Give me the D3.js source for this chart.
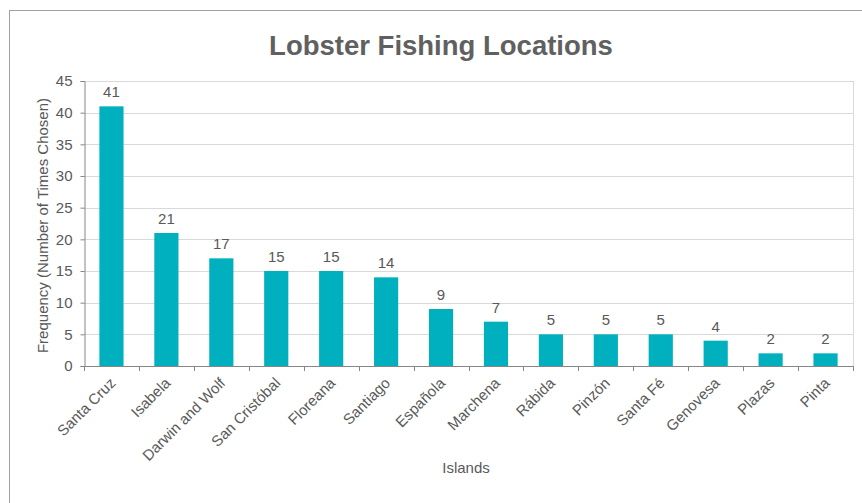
<!DOCTYPE html>
<html>
<head>
<meta charset="utf-8">
<script src="https://cdn.jsdelivr.net/npm/d3@7/dist/d3.min.js"></script>
<style>
  html, body { margin: 0; padding: 0; background: #fff; }
  svg { display: block; font-family: "Liberation Sans", Arial, sans-serif; }
  svg text { font-family: "Liberation Sans", Arial, sans-serif; }
</style>
</head>
<body>
<svg id="chart" width="862" height="503"></svg>
<script>
const islands = ["Santa Cruz", "Isabela", "Darwin and Wolf", "San Cristóbal", "Floreana", "Santiago",
  "Española", "Marchena", "Rábida", "Pinzón", "Santa Fé", "Genovesa", "Plazas", "Pinta"];
const timesChosen = [41, 21, 17, 15, 15, 14, 9, 7, 5, 5, 5, 4, 2, 2];
const yTicks = [0, 5, 10, 15, 20, 25, 30, 35, 40, 45];

const svg = d3.select("#chart");
const textColor = "#595959";
const barColor = "#00B0BE";
const fontSize = 15;

// outer chart frame
svg.append("rect")
  .attr("x", 9.5).attr("y", 10.5)
  .attr("width", 870).attr("height", 520)
  .attr("fill", "none").attr("stroke", "#a0a0a0").attr("stroke-width", 1);

const plot = { left: 84, right: 853, top: 81, bottom: 366 };

const x = d3.scaleBand().domain(islands).range([plot.left, plot.right]).paddingInner(0.56).paddingOuter(0.28);
const y = d3.scaleLinear().domain([0, 45]).range([plot.bottom, plot.top]);

// horizontal gridlines
svg.append("g").selectAll("line").data(yTicks.filter(t => t > 0)).join("line")
  .attr("x1", plot.left).attr("x2", plot.right)
  .attr("y1", d => Math.round(y(d)) + 0.5).attr("y2", d => Math.round(y(d)) + 0.5)
  .attr("stroke", "#d9d9d9");

// right border of plot area
svg.append("line")
  .attr("x1", plot.right + 0.5).attr("x2", plot.right + 0.5)
  .attr("y1", plot.top).attr("y2", plot.bottom)
  .attr("stroke", "#d9d9d9");

// bars
svg.append("g").selectAll("rect").data(islands).join("rect")
  .attr("x", d => x(d))
  .attr("width", x.bandwidth())
  .attr("y", (d, i) => y(timesChosen[i]))
  .attr("height", (d, i) => y(0) - y(timesChosen[i]))
  .attr("fill", barColor);

// value labels
svg.append("g").selectAll("text").data(islands).join("text")
  .attr("x", d => x(d) + x.bandwidth() / 2)
  .attr("y", (d, i) => y(timesChosen[i]) - 9)
  .attr("text-anchor", "middle")
  .attr("font-size", fontSize)
  .attr("fill", textColor)
  .text((d, i) => timesChosen[i]);

// y axis
const yAxis = svg.append("g")
  .attr("transform", `translate(${plot.left + 0.5},0)`)
  .call(d3.axisLeft(y).tickValues(yTicks).tickSize(4).tickPadding(8));
yAxis.select(".domain").attr("stroke", "#868686");
yAxis.selectAll(".tick line").attr("stroke", "#868686");
yAxis.selectAll(".tick text").attr("font-size", fontSize).attr("fill", textColor);

// x axis with tick marks at category boundaries
const boundaries = d3.range(islands.length + 1).map(i => plot.left + i * (plot.right - plot.left) / islands.length);
const xAxisG = svg.append("g");
xAxisG.append("line")
  .attr("x1", plot.left).attr("x2", plot.right + 1)
  .attr("y1", plot.bottom + 0.5).attr("y2", plot.bottom + 0.5)
  .attr("stroke", "#868686");
xAxisG.selectAll("line.tk").data(boundaries).join("line").attr("class", "tk")
  .attr("x1", d => Math.round(d) + 0.5).attr("x2", d => Math.round(d) + 0.5)
  .attr("y1", plot.bottom).attr("y2", plot.bottom + 5)
  .attr("stroke", "#868686");

// rotated category labels
svg.append("g").selectAll("text").data(islands).join("text")
  .attr("transform", d => `translate(${x(d) + x.bandwidth() / 2 + 5},${plot.bottom + 18}) rotate(-45)`)
  .attr("text-anchor", "end")
  .attr("font-size", fontSize)
  .attr("fill", textColor)
  .text(d => d);

// axis titles
svg.append("text")
  .attr("x", 466).attr("y", 473)
  .attr("text-anchor", "middle").attr("font-size", fontSize).attr("fill", textColor)
  .text("Islands");

svg.append("text")
  .attr("transform", `translate(48,${(plot.top + plot.bottom) / 2 + 2}) rotate(-90)`)
  .attr("text-anchor", "middle").attr("font-size", fontSize).attr("fill", textColor)
  .text("Frequency (Number of Times Chosen)");

// title
svg.append("text")
  .attr("x", 441).attr("y", 55)
  .attr("text-anchor", "middle").attr("font-size", 27.5).attr("font-weight", "bold").attr("fill", "#606060")
  .text("Lobster Fishing Locations");
</script>
</body>
</html>
